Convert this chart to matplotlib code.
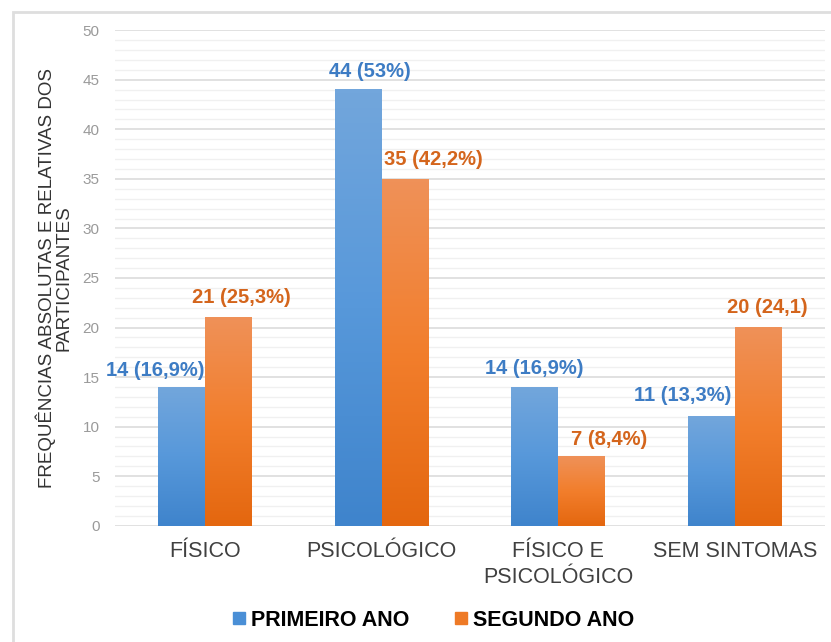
import numpy as np
import matplotlib.pyplot as plt
from matplotlib.colors import LinearSegmentedColormap
from matplotlib.patches import Rectangle
from matplotlib.lines import Line2D

plt.rcParams['font.family'] = ['Liberation Sans', 'DejaVu Sans']

categorias = ['FÍSICO', 'PSICOLÓGICO', 'FÍSICO E\nPSICOLÓGICO', 'SEM SINTOMAS']
primeiro = [14, 44, 14, 11]
segundo = [21, 35, 7, 20]
rot_primeiro = ['14 (16,9%)', '44 (53%)', '14 (16,9%)', '11 (13,3%)']
rot_segundo = ['21 (25,3%)', '35 (42,2%)', '7 (8,4%)', '20 (24,1)']

# deslocamento dos rótulos (pixels) em relação ao topo da barra
desl_primeiro = [(-26, 17), (12, 18), (-1, 19), (-29, 21)]
desl_segundo = [(13, 20), (28, 19), (27, 17), (9, 20)]

azul = '#4a8fd6'
laranja = '#ee7a26'
cmap_azul = LinearSegmentedColormap.from_list('az', ['#3f84cc', '#5798da', '#72a6dc'])
cmap_lar = LinearSegmentedColormap.from_list('la', ['#e4670f', '#f27e2c', '#ef9158'])

fig = plt.figure(figsize=(8.31, 6.42), dpi=100)
ax = fig.add_axes([0.138, 0.181, 0.855, 0.772])

x = np.arange(len(categorias))
w = 0.265
grad = np.linspace(0, 1, 100).reshape(-1, 1)

def barras(xs, vals, cmap):
    for xi, v in zip(xs, vals):
        ax.imshow(grad, cmap=cmap, origin='lower', aspect='auto',
                  extent=(xi, xi + w, 0, v), zorder=3, interpolation='bilinear')

barras(x - w, primeiro, cmap_azul)
barras(x, segundo, cmap_lar)

for i in range(len(categorias)):
    ax.annotate(rot_primeiro[i], (x[i] - w / 2, primeiro[i]), xytext=desl_primeiro[i],
                textcoords='offset pixels', ha='center', va='center',
                fontsize=14.5, fontweight='bold', color='#3d7cc4', zorder=5)
    ax.annotate(rot_segundo[i], (x[i] + w / 2, segundo[i]), xytext=desl_segundo[i],
                textcoords='offset pixels', ha='center', va='center',
                fontsize=14.5, fontweight='bold', color='#d4651c', zorder=5)

ax.set_xlim(-0.51, 3.51)
ax.set_ylim(0, 50)
ax.set_yticks(range(0, 51, 5))
ax.set_yticks(range(0, 51, 1), minor=True)
ax.grid(axis='y', which='major', color='#dcdcdc', linewidth=1.2, zorder=0)
ax.grid(axis='y', which='minor', color='#f0f0f0', linewidth=1.0, zorder=0)
ax.set_axisbelow(True)
ax.tick_params(axis='y', which='both', length=0, labelsize=11, labelcolor='#9a9a9a', pad=11)
ax.tick_params(axis='x', length=0, labelsize=15.5, labelcolor='#404040', pad=11)
ax.set_xticks(x)
ax.set_xticklabels(categorias, linespacing=1.3)
for s in ax.spines.values():
    s.set_visible(False)

ax.set_ylabel('FREQUÊNCIAS ABSOLUTAS E RELATIVAS DOS\nPARTICIPANTES', fontsize=13.5,
              color='#333333', linespacing=0.95)
ax.yaxis.set_label_coords(-0.06, 0.5)

handles = [Line2D([], [], marker='s', linestyle='', markersize=8, color=azul),
           Line2D([], [], marker='s', linestyle='', markersize=8, color=laranja)]
fig.legend(handles, ['PRIMEIRO ANO', 'SEGUNDO ANO'], loc='center', bbox_to_anchor=(0.52, 0.034),
           ncol=2, frameon=False, handletextpad=0.15, columnspacing=2.0, handlelength=0.8,
           prop={'weight': 'bold', 'size': 15.5})

# moldura
fig.add_artist(Rectangle((13 / 831, -0.01), 1.0, 0.997 - 10 / 642 + 0.01,
                         transform=fig.transFigure, fill=False, edgecolor='#dedede', linewidth=2))

fig.savefig('out.png', dpi=100)
